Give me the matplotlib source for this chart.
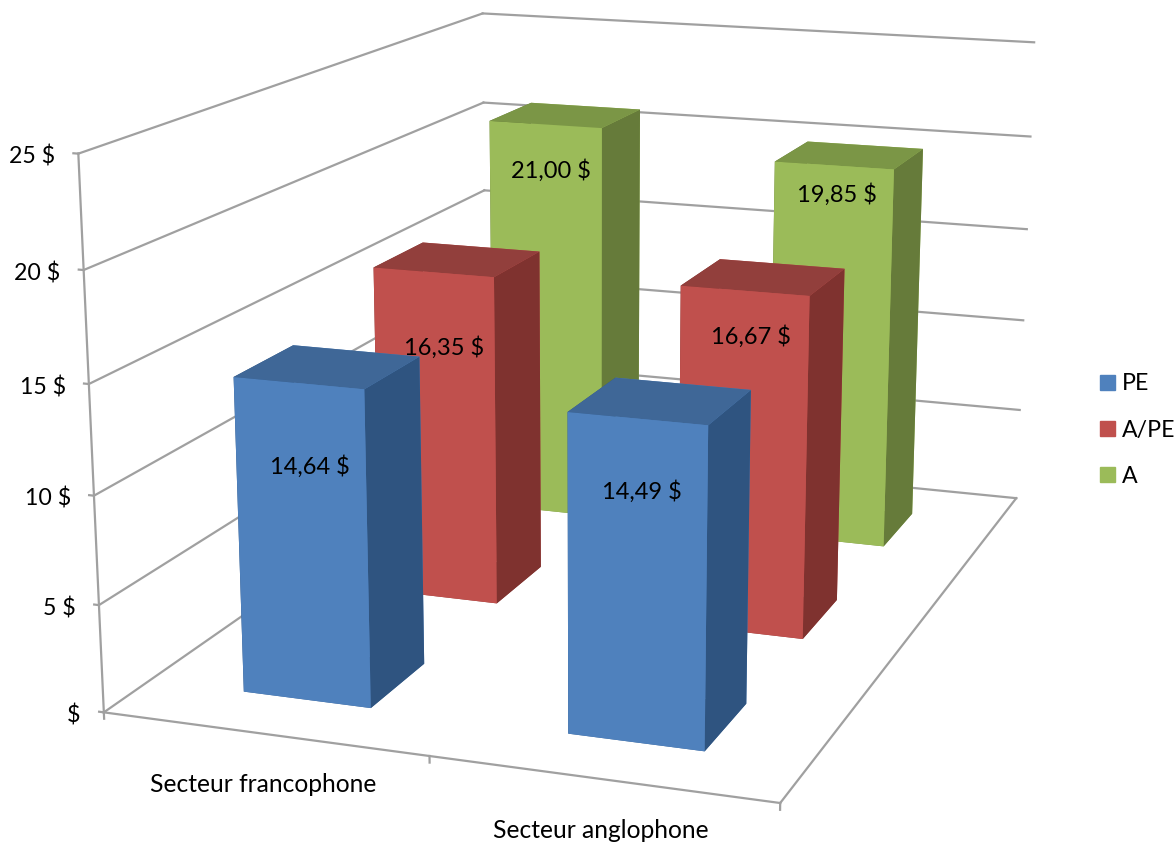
import numpy as np
import matplotlib
matplotlib.use("Agg")
import matplotlib.pyplot as plt
from matplotlib.patches import Patch
from mpl_toolkits.mplot3d import Axes3D, proj3d  # noqa

categories = ["Secteur francophone", "Secteur anglophone"]
series = ["PE", "A/PE", "A"]
values_PE = [14.64, 14.49]
values_APE = [16.35, 16.67]
values_A = [21.00, 19.85]
labels_PE = ["14,64 $", "14,49 $"]
labels_APE = ["16,35 $", "16,67 $"]
labels_A = ["21,00 $", "19,85 $"]
z_ticks = [0, 5, 10, 15, 20, 25]
z_tick_labels = ["$", "5 $", "10 $", "15 $", "20 $", "25 $"]

plt.rcParams['font.family'] = ['Lato', 'DejaVu Sans']
plt.rcParams['text.parse_math'] = False
W, H = 1175, 842
fig = plt.figure(figsize=(W/100, H/100), dpi=100)
ax = fig.add_axes([0, 0, 1, 1], projection='3d', computed_zorder=False)
ax.set_axis_off()
ax.patch.set_visible(False)
ax.set_proj_type('ortho')

# camera calibration: box corners (category, series depth, value) -> figure pixels
calib = [((0,0,25),(78,155)), ((0,3,25),(482,14)), ((2,3,25),(1034,42)),
         ((0,0,0),(104,713)), ((2,0,0),(780,803)), ((2,3,0),(1016,498)),
         ((0,3,20),(484,102)), ((2,3,20),(1031,137)), ((0,0,20),(84,268))]
A = []
b = []
for (X, Y, Z), (u, v) in calib:
    A.append([X, Y, Z, 1, 0, 0, 0, 0, -u*X, -u*Y, -u*Z]); b.append(u)
    A.append([0, 0, 0, 0, X, Y, Z, 1, -v*X, -v*Y, -v*Z]); b.append(v)
p = np.linalg.lstsq(np.array(A, float), np.array(b, float), rcond=None)[0]
row_w = np.array([p[8], p[9], p[10], 1.0])
M = np.array([[p[0], p[1], p[2], p[3]],
              [p[4], p[5], p[6], p[7]],
              row_w - 0.5*np.array([0, 0, 0, 1.0]),
              row_w])
ax.get_proj = lambda: M
ax.apply_aspect = lambda position=None: None
ax.viewLim.intervalx = (0, W)
ax.viewLim.intervaly = (H, 0)


def label(x, y, z, s, du=0, dv=0, **kw):
    u, v, _ = proj3d.proj_transform(x, y, z, M)
    fig.text((u+du)/W, 1-(v+dv)/H, s, color='black', **kw)


grid_c = '#A0A0A0'
lw = 1.6
for z in z_ticks:
    ax.plot([0, 0], [0, 3], [z, z], color=grid_c, lw=lw, zorder=1)
    ax.plot([0, 2], [3, 3], [z, z], color=grid_c, lw=lw, zorder=1)
    ax.plot([-0.015, 0], [0, 0], [z, z], color=grid_c, lw=lw, zorder=1)
ax.plot([0, 0], [0, 0], [0, 25], color=grid_c, lw=lw, zorder=1)
ax.plot([0, 2], [0, 0], [0, 0], color=grid_c, lw=lw, zorder=1)
ax.plot([2, 2], [0, 3], [0, 0], color=grid_c, lw=lw, zorder=1)
for x in [0, 1, 2]:
    ax.plot([x, x], [0, 0], [-0.3, 0], color=grid_c, lw=lw, zorder=1)

bw, bd = 0.4, 0.40
rows = [(2.5, values_A, labels_A, ('#9BBB59', '#7B9646', '#667B3A'),
         (0.885, 0.926), (0.018, 0.012), 2),
        (1.5, values_APE, labels_APE, ('#C0504D', '#923F3C', '#7F322F'),
         (0.775, 0.871), (0.033, 0.021), 3),
        (0.5, values_PE, labels_PE, ('#4F81BD', '#3F6797', '#2F5480'),
         (0.746, 0.781), (0.027, 0.015), 4)]
for yc, vals, labs, (front, top, side), fracs, offs, zo in rows:
    faces = [top, top, front, front, side, side]
    ax.bar3d([0.5-bw/2, 1.5-bw/2], [yc-0.21]*2, [0, 0], bw, bd, vals,
             color=faces*2, shade=False, zorder=zo, linewidth=0)
    for xc, v, s, fr, off in zip([0.5, 1.5], vals, labs, fracs, offs):
        label(xc+off, yc-0.21, v*fr, s, ha='center', va='center', fontsize=17)

for z, s in zip(z_ticks, z_tick_labels):
    label(0, 0, z, s, du=-23, dv=3, ha='right', va='center', fontsize=16.7)
for xc, s in zip([0.5, 1.5], categories):
    label(xc, 0, 0, s, du=-1, dv=51, ha='center', va='center', fontsize=17.7)

handles = [Patch(color=c) for c in ('#4F81BD', '#C0504D', '#9BBB59')]
fig.legend(handles, series, loc='center left', bbox_to_anchor=(1100/W, 1-430/H), frameon=False,
           fontsize=16.7, handlelength=0.65, handleheight=0.65, handletextpad=0.3, labelspacing=1.08,
           borderpad=0, borderaxespad=0)
fig.savefig("out.png", dpi=100)
